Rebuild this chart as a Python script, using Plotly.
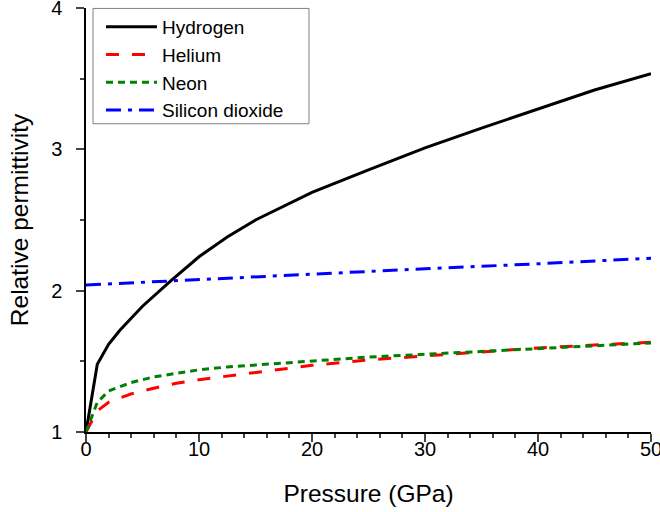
import plotly.graph_objects as go

# Pressure (GPa) and relative permittivity
p_h2 = [0, 1, 2, 3, 5, 7.5, 10, 12.5, 15, 20, 25, 30, 35, 40, 45, 50]
eps_h2 = [1.0, 1.48, 1.62, 1.72, 1.89, 2.07, 2.24, 2.38, 2.50, 2.695, 2.855, 3.01, 3.15, 3.283, 3.42, 3.535]

p_he = [0, 1, 2, 4, 6, 8, 10, 15, 20, 25, 30, 35, 40, 45, 50]
eps_he = [1.0, 1.15, 1.21, 1.27, 1.31, 1.345, 1.37, 1.42, 1.472, 1.51, 1.54, 1.568, 1.595, 1.615, 1.635]

p_ne = [0, 1, 2, 4, 6, 8, 10, 12.5, 15, 20, 25, 30, 35, 40, 45, 50]
eps_ne = [1.0, 1.21, 1.29, 1.35, 1.39, 1.415, 1.44, 1.46, 1.475, 1.505, 1.53, 1.55, 1.57, 1.595, 1.61, 1.63]

p_sio2 = [0, 10, 20, 30, 40, 50]
eps_sio2 = [2.04, 2.08, 2.115, 2.155, 2.19, 2.23]

names = ["Hydrogen", "Helium", "Neon", "Silicon dioxide"]
x_ticks = [0, 10, 20, 30, 40, 50]
y_ticks = [1, 2, 3, 4]

FONT = "Arial, Liberation Sans, sans-serif"

fig = go.Figure()
fig.add_trace(go.Scatter(x=p_h2, y=eps_h2, mode="lines", name=names[0],
                         line=dict(color="black", width=3)))
fig.add_trace(go.Scatter(x=p_he, y=eps_he, mode="lines", name=names[1],
                         line=dict(color="#ff0000", width=3, dash="13px,13px")))
fig.add_trace(go.Scatter(x=p_ne, y=eps_ne, mode="lines", name=names[2],
                         line=dict(color="#008000", width=3, dash="7px,5px")))
fig.add_trace(go.Scatter(x=p_sio2, y=eps_sio2, mode="lines", name=names[3],
                         line=dict(color="#0000ff", width=3, dash="15px,7px,4px,7px")))

# legend frame
fig.add_shape(type="rect", xref="paper", yref="paper",
              x0=0.0124, x1=0.3947, y0=0.727, y1=0.999,
              line=dict(color="#808080", width=1), fillcolor="white", layer="above")

fig.update_layout(
    width=660, height=512,
    margin=dict(l=86, r=9, t=8, b=80, autoexpand=False),
    paper_bgcolor="white", plot_bgcolor="white",
    font=dict(family=FONT, size=20, color="black"),
    showlegend=True,
    legend=dict(x=0.0265, y=1.0, xanchor="left", yanchor="top",
                bgcolor="rgba(0,0,0,0)", borderwidth=0,
                font=dict(family=FONT, size=19, color="black"),
                itemwidth=51, tracegroupgap=0),
)
fig.update_xaxes(
    range=[0, 50], tickvals=x_ticks, ticks="outside", ticklen=8, tickwidth=1.5,
    showline=True, linecolor="black", linewidth=1.5, showgrid=False, zeroline=False,
    minor=dict(dtick=2, ticks="outside", ticklen=4, tickwidth=1.5, showgrid=False),
    tickfont=dict(size=20), ticklabeloverflow="allow", ticklabelstandoff=-10,
    title=dict(text="Pressure (GPa)", font=dict(size=24.5), standoff=26),
)
fig.update_yaxes(
    range=[1, 4], tickvals=y_ticks, ticks="outside", ticklen=8, tickwidth=1.5,
    showline=True, linecolor="black", linewidth=1.5, showgrid=False, zeroline=False,
    minor=dict(dtick=0.5, ticks="outside", ticklen=4, tickwidth=1.5, showgrid=False),
    tickfont=dict(size=20), ticklabeloverflow="allow", ticklabelstandoff=10,
    title=dict(text="Relative permittivity", font=dict(size=24.5), standoff=16),
)

fig.write_html("out.html")
